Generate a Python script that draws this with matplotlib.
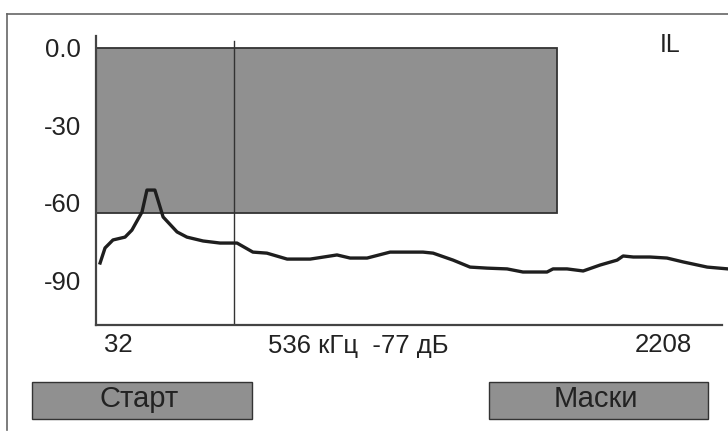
import matplotlib
matplotlib.use("Agg")
import matplotlib.pyplot as plt
from matplotlib.patches import Rectangle
from matplotlib.lines import Line2D

# --- Dane wykresu ---
freq_khz = [47, 65, 94, 138, 163, 200, 218, 247, 258, 277, 328, 364, 423, 485, 547,
            605, 656, 730, 814, 839, 912, 960, 1022, 1106, 1226, 1263, 1336, 1398,
            1460, 1533, 1591, 1679, 1701, 1752, 1811, 1873, 1935, 1957, 1994, 2055,
            2117, 2176, 2264, 2340]
level_db = [-83.2, -77.4, -74.3, -73.2, -70.5, -63.5, -55.0, -55.0, -58.8, -65.4,
            -71.2, -73.2, -74.7, -75.5, -75.5, -79.0, -79.4, -81.7, -81.7, -81.3,
            -80.1, -81.3, -81.3, -79.0, -79.0, -79.4, -82.1, -84.8, -85.2, -85.5,
            -86.7, -86.7, -85.5, -85.5, -86.3, -84.0, -82.1, -80.5, -80.9, -80.9,
            -81.3, -82.8, -84.8, -85.5]

mask_f = (32, 1716)        # zakres maski (kHz)
mask_db = (0, -64)         # gorna / dolna granica maski (dB)
cursor_f = 536
cursor_db = -77
f_start, f_stop = 32, 2208
y_ticks = [0, -30, -60, -90]
y_tick_labels = ["0.0", "-30", "-60", "-90"]
mode_label = "IL"
buttons = ["Старт", "Маски"]

W, H = 728, 433
plt.rcParams["font.family"] = ["Liberation Sans", "DejaVu Sans"]
TXT = "#222222"


def px(x, y):
    # piksele obrazka -> wspolrzedne figury
    return x / W, 1 - y / H


fig = plt.figure(figsize=(W / 100, H / 100), dpi=100)
fig.patch.set_facecolor("white")

# ramka ekranu
fig.add_artist(Line2D([7 / W, 1], [1 - 14 / H] * 2, color="#666666", lw=1.2))
fig.add_artist(Line2D([7 / W] * 2, [1 - 14 / H, 1 - 430 / H], color="#666666", lw=1.2))

ax = fig.add_axes([96 / W, 1 - 325 / H, (722 - 96) / W, (325 - 36) / H])
ax.set_xlim(32, 2318)
ax.set_ylim(-107.2, 4.6)
ax.set_facecolor("none")
for s in ["top", "right"]:
    ax.spines[s].set_visible(False)
for s in ["left", "bottom"]:
    ax.spines[s].set_color("#444444")
    ax.spines[s].set_linewidth(1.6)

# maska
ax.add_patch(Rectangle((mask_f[0], mask_db[1]), mask_f[1] - mask_f[0], mask_db[0] - mask_db[1],
                       facecolor="#909090", edgecolor="#333333", lw=1.3, zorder=1))

# kursor
ax.axvline(cursor_f, ymax=0.983, color="#333333", lw=1.0, zorder=2)

# widmo
ax.plot(freq_khz, level_db, color="#1e1e1e", lw=2.4, solid_joinstyle="round",
        clip_on=False, zorder=3)

ax.set_xticks([])
ax.set_yticks(y_ticks)
ax.set_yticklabels(y_tick_labels, fontsize=18.5, color=TXT)
ax.tick_params(axis="y", length=0, pad=11)

# podpisy osi X i kursora
fig.text(*px(118, 345), str(f_start), fontsize=18.5, color=TXT, ha="center", va="center")
fig.text(*px(358, 346), f"{cursor_f} кГц  {cursor_db} дБ", fontsize=18.5, color=TXT,
         ha="center", va="center")
fig.text(*px(663, 345), str(f_stop), fontsize=18.5, color=TXT, ha="center", va="center")
fig.text(*px(670, 45), mode_label, fontsize=18, color=TXT, ha="center", va="center")

# przyciski
for (x0, x1), label in zip([(32, 252), (489, 708)], buttons):
    fx, fy = px(x0, 419)
    fig.add_artist(Rectangle((fx, fy), (x1 - x0) / W, 37 / H, transform=fig.transFigure,
                             facecolor="#909090", edgecolor="#333333", lw=1.0))
    fig.text(*px((x0 + x1) / 2 - 3, 399), label, fontsize=21, color=TXT,
             ha="center", va="center")

fig.savefig("out.png", dpi=100)
